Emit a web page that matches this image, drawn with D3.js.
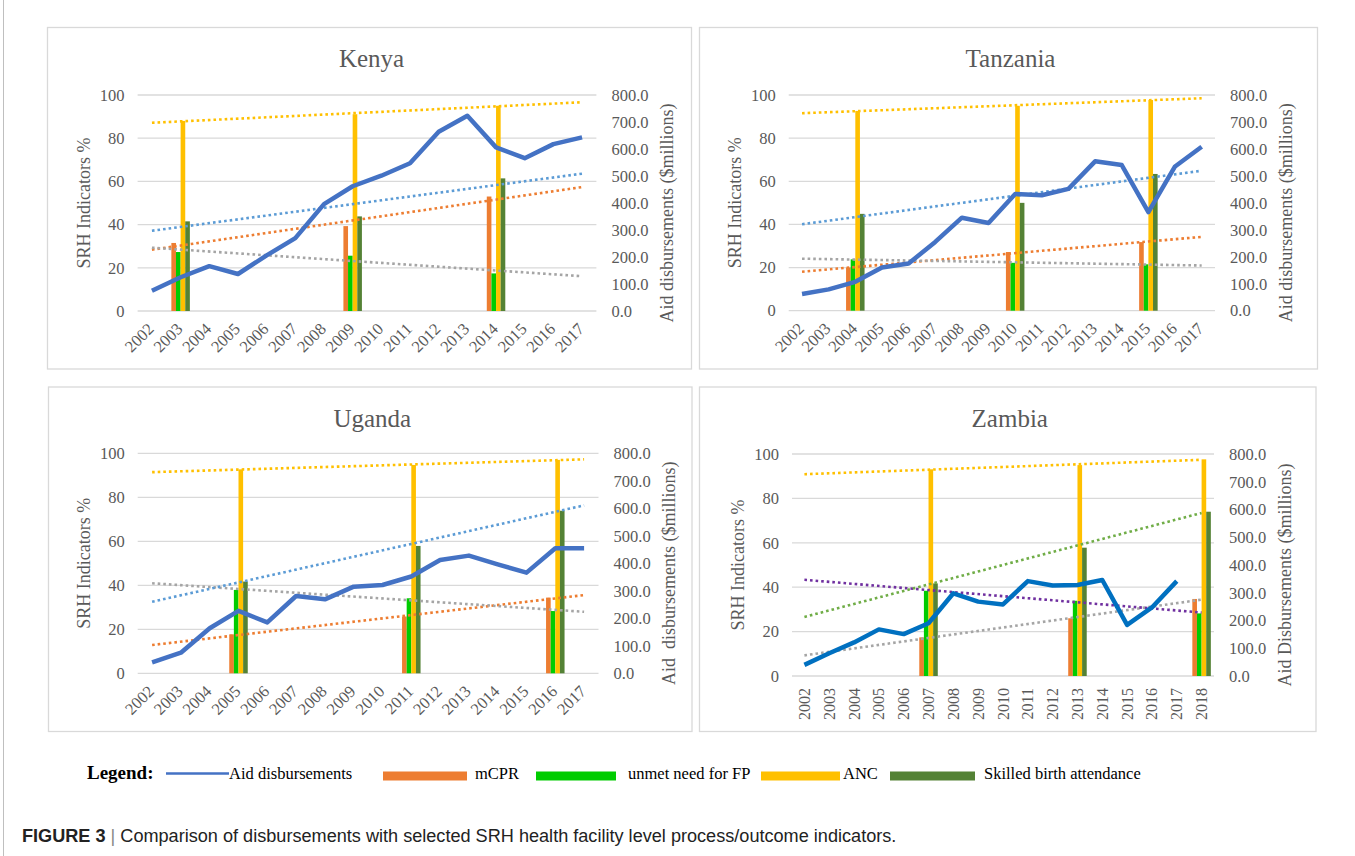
<!DOCTYPE html>
<html><head><meta charset="utf-8">
<script src="https://cdn.jsdelivr.net/npm/d3@7"></script>
<style>body{margin:0;background:#fff} svg{display:block}</style>
</head><body><svg id="c" width="1355" height="856"></svg>
<script>
// ---------- DATA ----------
const years16 = ["2002","2003","2004","2005","2006","2007","2008","2009","2010","2011","2012","2013","2014","2015","2016","2017"];
const years17 = ["2002","2003","2004","2005","2006","2007","2008","2009","2010","2011","2012","2013","2014","2015","2016","2017","2018"];
const leftTicks = [0,20,40,60,80,100];
const rightTicks = [0,100,200,300,400,500,600,700,800];
const indicatorNames = ["mCPR","unmet need for FP","ANC","Skilled birth attendance"];

const kenyaAid = [75,125,166,137,206,270,396,462,501,547,664,723,606,566,618,643];
const kenyaSurvey = ["2003","2009","2014"];
const kenyaMCPR = [31.5,39.3,53.0];
const kenyaUnmet = [27.3,25.6,17.4];
const kenyaANC = [88.0,91.1,95.0];
const kenyaSBA = [41.5,43.8,61.4];

const tanzaniaAid = [62,79,107,160,175,255,345,325,433,428,452,554,540,366,535,608];
const tanzaniaSurvey = ["2004","2010","2015"];
const tanzaniaMCPR = [20.0,27.2,31.8];
const tanzaniaUnmet = [23.8,22.2,21.5];
const tanzaniaANC = [92.6,95.0,97.7];
const tanzaniaSBA = [44.9,50.0,63.4];

const ugandaAid = [40,75,164,227,185,281,269,315,321,352,412,428,396,366,455,455];
const ugandaSurvey = ["2005","2011","2016"];
const ugandaMCPR = [17.7,25.8,34.4];
const ugandaUnmet = [37.9,34.1,28.3];
const ugandaANC = [92.7,94.7,97.0];
const ugandaSBA = [41.7,57.9,73.9];

const zambiaAid = [40,82,121,168,151,190,298,268,258,342,326,328,346,184,247,342,null];
const zambiaSurvey = ["2007","2013","2018"];
const zambiaMCPR = [17.4,26.0,34.7];
const zambiaUnmet = [38.4,33.9,28.2];
const zambiaANC = [93.1,95.0,97.6];
const zambiaSBA = [41.7,57.8,74.0];

// ---------- STYLE / LAYOUT ----------
const barColors = ["#ED7D31","#00CC00","#FFC000","#548235"];
const trendA = ["#ED7D31","#A5A5A5","#FFC000","#5B9BD5"];
const trendZ = ["#A5A5A5","#7030A0","#FFC000","#70AD47"];
const serif = "'Liberation Serif','Times New Roman',serif";
const txt = "#595959";

const panels = [
  {title:"Kenya", years:years16, aid:kenyaAid, survey:kenyaSurvey, ind:[kenyaMCPR,kenyaUnmet,kenyaANC,kenyaSBA],
   frame:[47.5,27.5,691.5,369], px:[137.6,596.4], py:[311,95], rot:-45, lineColor:"#4472C4", trend:trendA,
   rtitle:"Aid disbursements ($millions)"},
  {title:"Tanzania", years:years16, aid:tanzaniaAid, survey:tanzaniaSurvey, ind:[tanzaniaMCPR,tanzaniaUnmet,tanzaniaANC,tanzaniaSBA],
   frame:[699.5,27.5,1317.5,369], px:[788.7,1215], py:[310.7,95], rot:-45, lineColor:"#4472C4", trend:trendA,
   rtitle:"Aid disbursements ($millions)"},
  {title:"Uganda", years:years16, aid:ugandaAid, survey:ugandaSurvey, ind:[ugandaMCPR,ugandaUnmet,ugandaANC,ugandaSBA],
   frame:[48.5,387,692,731.5], px:[137.7,598.5], py:[673.3,453.3], rot:-45, lineColor:"#4472C4", trend:trendA,
   rtitle:"Aid\u00a0\u00a0disbursements ($millions)"},
  {title:"Zambia", years:years17, aid:zambiaAid, survey:zambiaSurvey, ind:[zambiaMCPR,zambiaUnmet,zambiaANC,zambiaSBA],
   frame:[699.5,387,1316,731.5], px:[792,1214], py:[676,454], rot:-90, lineColor:"#0070C0", trend:trendZ,
   rtitle:"Aid Disbursements ($millions)"}
];

const svg = d3.select("#c");

// outer figure border (left)
svg.append("line").attr("x1",3.5).attr("x2",3.5).attr("y1",0).attr("y2",856).attr("stroke","#bfbfbf").attr("stroke-width",1);

function linreg(xs, ys){
  const n = xs.length, mx = d3.mean(xs), my = d3.mean(ys);
  let num=0, den=0;
  for(let i=0;i<n;i++){num+=(xs[i]-mx)*(ys[i]-my); den+=(xs[i]-mx)**2;}
  const b = num/den; return {a: my - b*mx, b};
}

panels.forEach(p => {
  const g = svg.append("g");
  const [fx0,fy0,fx1,fy1] = p.frame;
  g.append("rect").attr("x",fx0).attr("y",fy0).attr("width",fx1-fx0).attr("height",fy1-fy0)
    .attr("fill","#fff").attr("stroke","#D9D9D9").attr("stroke-width",1.3);

  const x = d3.scaleBand().domain(p.years).range(p.px);
  const bw = x.bandwidth();
  const yL = d3.scaleLinear().domain([0,100]).range(p.py);
  const yR = d3.scaleLinear().domain([0,800]).range(p.py);

  // gridlines
  g.append("g").selectAll("line").data(leftTicks).join("line")
    .attr("x1",p.px[0]).attr("x2",p.px[1]).attr("y1",d=>yL(d)).attr("y2",d=>yL(d))
    .attr("stroke","#D9D9D9").attr("stroke-width",1.3);

  // left axis labels
  const la = g.append("g").attr("transform",`translate(${p.px[0]},0)`)
    .call(d3.axisLeft(yL).tickValues(leftTicks).tickSize(0).tickPadding(13));
  la.select(".domain").remove();
  la.selectAll("text").attr("font-family",serif).attr("font-size",16.5).attr("fill",txt);

  // right axis labels
  const ra = g.append("g").attr("transform",`translate(${p.px[1]},0)`)
    .call(d3.axisRight(yR).tickValues(rightTicks).tickFormat(d3.format(".1f")).tickSize(0).tickPadding(15));
  ra.select(".domain").remove();
  ra.selectAll("text").attr("font-family",serif).attr("font-size",16.5).attr("fill",txt);

  // bottom axis labels
  const ba = g.append("g").attr("transform",`translate(0,${p.py[0]})`)
    .call(d3.axisBottom(x).tickSize(0));
  ba.select(".domain").remove();
  const bt = ba.selectAll("text").attr("font-family",serif).attr("fill",txt)
    .attr("x",0).attr("y",0).attr("dy",null).attr("text-anchor","end");
  if (p.rot === -45) bt.attr("font-size",16.5).attr("transform","translate(3,19) rotate(-45)");
  else bt.attr("font-size",16).attr("dominant-baseline","central").attr("transform","translate(0,12) rotate(-90)");

  // bars
  const groupW = 18.5;
  const x1 = d3.scaleBand().domain(d3.range(4)).range([0,groupW]);
  const barData = [];
  p.survey.forEach((yr,si) => p.ind.forEach((arr,k) => barData.push({yr,k,v:arr[si]})));
  g.append("g").selectAll("rect").data(barData).join("rect")
    .attr("x",d=>x(d.yr)+bw/2-groupW/2+x1(d.k)).attr("width",x1.bandwidth())
    .attr("y",d=>yL(d.v)).attr("height",d=>yL(0)-yL(d.v))
    .attr("fill",d=>barColors[d.k]);

  // trendlines (linear regression on category index)
  const xi = p.survey.map(s=>p.years.indexOf(s));
  const first = 0, last = p.years.length-1;
  p.ind.forEach((arr,k) => {
    const r = linreg(xi, arr);
    g.append("line")
      .attr("x1",x(p.years[first])+bw/2).attr("y1",yL(r.a+r.b*first))
      .attr("x2",x(p.years[last])+bw/2).attr("y2",yL(r.a+r.b*last))
      .attr("stroke",p.trend[k]).attr("stroke-width",2.6).attr("stroke-dasharray","2.6 3");
  });

  // aid line
  const line = d3.line().defined(d=>d!=null)
    .x((d,i)=>x(p.years[i])+bw/2).y(d=>yR(d));
  g.append("path").datum(p.aid).attr("d",line).attr("fill","none")
    .attr("stroke",p.lineColor).attr("stroke-width",4.5).attr("stroke-linejoin","round");

  // title
  g.append("text").attr("x",(fx0+fx1)/2 + 2)
    .attr("y",fy0+31).attr("dominant-baseline","central").attr("text-anchor","middle")
    .attr("font-family",serif).attr("font-size",25).attr("fill",txt).text(p.title);

  // axis titles
  const cy = (p.py[0]+p.py[1])/2;
  g.append("text").attr("transform",`translate(${p.px[0]-54},${cy}) rotate(-90)`)
    .attr("text-anchor","middle").attr("dominant-baseline","central")
    .attr("font-family",serif).attr("font-size",18).attr("fill",txt).text("SRH Indicators %");
  g.append("text").attr("transform",`translate(${p.px[1]+70.5},${cy+10}) rotate(-90)`)
    .attr("text-anchor","middle").attr("dominant-baseline","central")
    .attr("font-family",serif).attr("font-size",18).attr("fill",txt).text(p.rtitle);
});

// ---------- LEGEND ----------
const lg = svg.append("g");
lg.append("text").attr("x",87).attr("y",779).attr("font-family",serif).attr("font-weight","bold")
  .attr("font-size",19).attr("fill","#000").text("Legend:");
lg.append("line").attr("x1",166).attr("x2",229).attr("y1",773.5).attr("y2",773.5)
  .attr("stroke","#4472C4").attr("stroke-width",2.7);
lg.append("text").attr("x",229).attr("y",779).attr("font-family",serif).attr("font-size",16.5).attr("fill","#000").text("Aid disbursements");
const legItems = [
  {x:383, w:84, tx:475},
  {x:536, w:80, tx:628},
  {x:761, w:79, tx:843},
  {x:890, w:85, tx:984}
];
legItems.forEach((it,k) => {
  lg.append("rect").attr("x",it.x).attr("y",771.5).attr("width",it.w).attr("height",9).attr("fill",barColors[k]);
  lg.append("text").attr("x",it.tx).attr("y",779).attr("font-family",serif).attr("font-size",16.5).attr("fill","#000")
    .text(k===2?"ANC":indicatorNames[k]);
});

// ---------- CAPTION ----------
const cap = svg.append("text").attr("x",22).attr("y",842).attr("font-family","'Liberation Sans',Arial,sans-serif")
  .attr("font-size",16).attr("fill","#222");
cap.append("tspan").attr("font-weight","bold").text("FIGURE 3");
cap.append("tspan").attr("fill","#888").text(" | ");
cap.append("tspan").text("Comparison of disbursements with selected SRH health facility level process/outcome indicators.");
const capW = cap.node().getComputedTextLength();
cap.attr("font-size", 16 * 875 / capW);
</script>
</body></html>
